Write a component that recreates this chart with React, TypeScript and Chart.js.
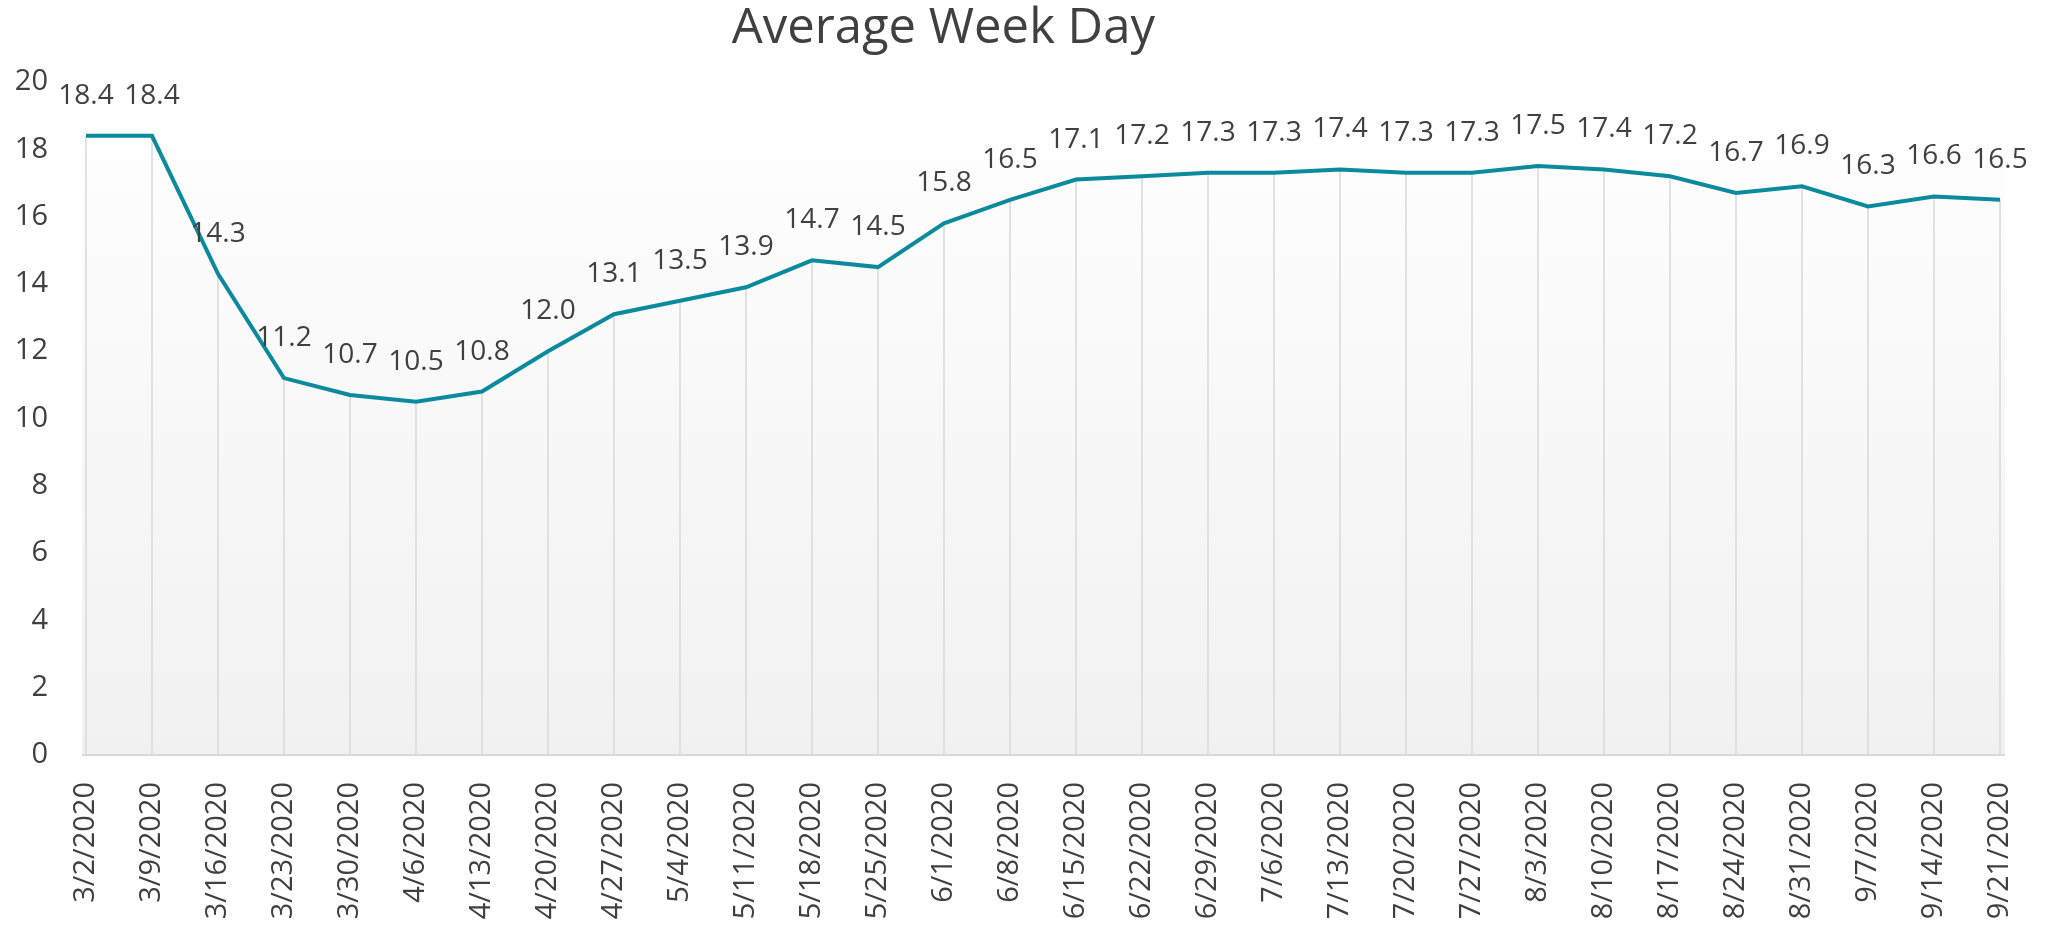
import React, { useEffect, useRef } from "react";
import { Chart, registerables } from "chart.js";

Chart.register(...registerables);

const categories = [
  "3/2/2020", "3/9/2020", "3/16/2020", "3/23/2020", "3/30/2020", "4/6/2020",
  "4/13/2020", "4/20/2020", "4/27/2020", "5/4/2020", "5/11/2020", "5/18/2020",
  "5/25/2020", "6/1/2020", "6/8/2020", "6/15/2020", "6/22/2020", "6/29/2020",
  "7/6/2020", "7/13/2020", "7/20/2020", "7/27/2020", "8/3/2020", "8/10/2020",
  "8/17/2020", "8/24/2020", "8/31/2020", "9/7/2020", "9/14/2020", "9/21/2020",
];

const values = [
  18.4, 18.4, 14.3, 11.2, 10.7, 10.5,
  10.8, 12.0, 13.1, 13.5, 13.9, 14.7,
  14.5, 15.8, 16.5, 17.1, 17.2, 17.3,
  17.3, 17.4, 17.3, 17.3, 17.5, 17.4,
  17.2, 16.7, 16.9, 16.3, 16.6, 16.5,
];

const yMin = 0;
const yMax = 20;
const yStep = 2;

const titleText = "Average Week Day";
const FONT = "'Open Sans', 'Noto Sans', sans-serif";
const TEXT = "#404040";

export default function App() {
  const ref = useRef<HTMLCanvasElement | null>(null);

  useEffect(() => {
    if (!ref.current) return;

    const backdrop = {
      id: "backdrop",
      beforeDatasetsDraw(chart: any) {
        const { ctx, chartArea } = chart;
        const ext = 4;
        ctx.save();
        const g = ctx.createLinearGradient(0, chartArea.top, 0, chartArea.bottom);
        g.addColorStop(0, "#ffffff");
        g.addColorStop(1, "#f1f1f1");
        ctx.fillStyle = g;
        ctx.fillRect(
          chartArea.left - ext,
          chartArea.top,
          chartArea.right - chartArea.left + 2 * ext + 1,
          chartArea.bottom - chartArea.top
        );
        const meta = chart.getDatasetMeta(0);
        ctx.strokeStyle = "#d9d9d9";
        ctx.lineWidth = 1.5;
        meta.data.forEach((p: any) => {
          ctx.beginPath();
          ctx.moveTo(p.x, p.y);
          ctx.lineTo(p.x, chartArea.bottom);
          ctx.stroke();
        });
        ctx.lineWidth = 2;
        ctx.beginPath();
        ctx.moveTo(chartArea.left - ext, chartArea.bottom);
        ctx.lineTo(chartArea.right + ext + 1, chartArea.bottom);
        ctx.stroke();
        ctx.restore();
      },
    };

    const labelsAndTitle = {
      id: "labelsAndTitle",
      afterDatasetsDraw(chart: any) {
        const { ctx } = chart;
        const meta = chart.getDatasetMeta(0);
        ctx.save();
        ctx.fillStyle = TEXT;
        ctx.font = `28px ${FONT}`;
        ctx.textAlign = "center";
        ctx.textBaseline = "middle";
        meta.data.forEach((p: any, i: number) => {
          ctx.fillText(values[i].toFixed(1), p.x, p.y - 40);
        });
        ctx.font = `49px ${FONT}`;
        ctx.fillText(titleText, chart.width * 0.4575, 29);
        ctx.restore();
      },
    };

    const chart = new Chart(ref.current, {
      type: "line",
      data: {
        labels: categories,
        datasets: [
          {
            data: values,
            borderColor: "#0a8a9c",
            borderWidth: 4,
            pointRadius: 0,
            tension: 0,
            fill: false,
          },
        ],
      },
      options: {
        responsive: false,
        animation: false,
        layout: { padding: { top: 82, right: 62, left: 0, bottom: 0 } },
        plugins: {
          legend: { display: false },
          title: { display: false },
          tooltip: { enabled: false },
        },
        scales: {
          x: {
            type: "category",
            offset: false,
            grid: { display: false, drawTicks: false },
            border: { display: false },
            ticks: {
              autoSkip: false,
              minRotation: 90,
              maxRotation: 90,
              padding: 27,
              color: TEXT,
              font: { family: FONT, size: 29 },
            },
            afterFit(scale: any) {
              scale.height = 181;
            },
          },
          y: {
            min: yMin,
            max: yMax,
            grid: { display: false, drawTicks: false },
            border: { display: false },
            ticks: {
              stepSize: yStep,
              padding: 38,
              color: TEXT,
              font: { family: FONT, size: 29 },
            },
            afterFit(scale: any) {
              scale.width = 86;
            },
          },
        },
      },
      plugins: [backdrop, labelsAndTitle],
    });

    return () => chart.destroy();
  }, []);

  return (
    <div style={{ position: "absolute", left: 0, top: 0, width: 2062, height: 936, background: "#ffffff" }}>
      <canvas ref={ref} width={2062} height={936} style={{ display: "block" }} />
    </div>
  );
}
